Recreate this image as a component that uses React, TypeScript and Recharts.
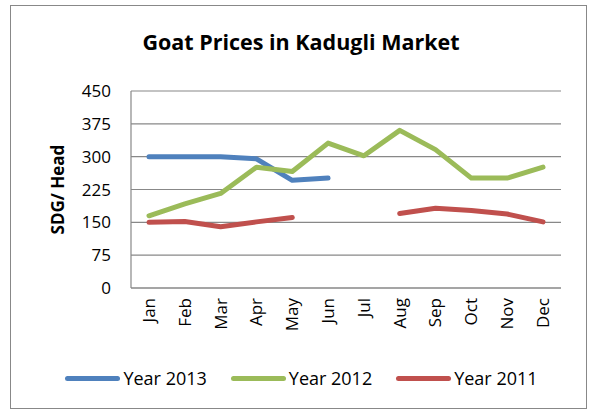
import { LineChart, Line, XAxis, YAxis, CartesianGrid, Legend } from "recharts";

const months = ["Jan", "Feb", "Mar", "Apr", "May", "Jun", "Jul", "Aug", "Sep", "Oct", "Nov", "Dec"];
const year2013 = [300, 300, 300, 295, 246, 251, null, null, null, null, null, null];
const year2012 = [165, 192, 216, 276, 266, 331, 302, 360, 316, 251, 251, 276];
const year2011 = [150, 152, 140, 151, 161, null, null, 170, 182, 177, 169, 151];
const yTicks = [0, 75, 150, 225, 300, 375, 450];

const seriesInfo = [
  { key: "y2013", name: "Year 2013", color: "#4F81BD" },
  { key: "y2012", name: "Year 2012", color: "#9BBB59" },
  { key: "y2011", name: "Year 2011", color: "#C0504D" },
];

const data = months.map((m, i) => ({
  month: m,
  y2013: year2013[i],
  y2012: year2012[i],
  y2011: year2011[i],
}));

const FONT = "'Open Sans', sans-serif";

function MonthTick({ x, y, payload }: any) {
  return (
    <text
      x={x}
      y={y}
      dy="0.35em"
      textAnchor="end"
      transform={`rotate(-90, ${x}, ${y})`}
      fontSize={17}
      fontFamily={FONT}
      fill="#000"
    >
      {payload.value}
    </text>
  );
}

function LegendContent() {
  return (
    <div
      style={{
        display: "flex",
        justifyContent: "center",
        alignItems: "center",
        paddingLeft: 36,
        fontFamily: FONT,
        fontSize: 18,
        color: "#000",
      }}
    >
      {seriesInfo.map((s) => (
        <div key={s.key} style={{ display: "flex", alignItems: "center", marginRight: 24 }}>
          <div style={{ width: 55, height: 5, borderRadius: 3, background: s.color, marginRight: 3 }} />
          <span>{s.name}</span>
        </div>
      ))}
    </div>
  );
}

function YLabel({ viewBox }: any) {
  const cy = viewBox.y + viewBox.height / 2;
  return (
    <text
      x={58}
      y={cy}
      dy="0.35em"
      textAnchor="middle"
      transform={`rotate(-90, 58, ${cy})`}
      fontSize={17}
      fontWeight="bold"
      fontFamily={FONT}
      fill="#000"
    >
      SDG/ Head
    </text>
  );
}

export default function App() {
  return (
    <div style={{ position: "absolute", left: 0, top: 0, width: 591, height: 415, background: "#fff" }}>
      <div
        style={{
          position: "absolute",
          left: 10,
          top: 5,
          width: 575,
          height: 402,
          border: "1px solid #888",
        }}
      />
      <div
        style={{
          position: "absolute",
          left: 0,
          top: 27,
          width: 602,
          textAlign: "center",
          fontFamily: FONT,
          fontWeight: "bold",
          fontSize: 21.5,
          color: "#000",
        }}
      >
        Goat Prices in Kadugli Market
      </div>
      <div style={{ position: "absolute", left: 0, top: 0 }}>
        <LineChart width={591} height={415} data={data} margin={{ top: 91, right: 30, bottom: 0, left: 0 }}>
          <CartesianGrid vertical={false} stroke="#888" strokeWidth={1.2} />
          <XAxis
            dataKey="month"
            height={127}
            tickSize={0}
            tickMargin={10}
            tickLine={false}
            padding={{ left: 18, right: 18 }}
            axisLine={{ stroke: "#888", strokeWidth: 1.2 }}
            tick={<MonthTick />}
            interval={0}
          />
          <YAxis
            width={131}
            domain={[0, 450]}
            ticks={yTicks}
            tickSize={0}
            tickMargin={20}
            tickLine={false}
            axisLine={{ stroke: "#888", strokeWidth: 1.2 }}
            tick={{ fontSize: 17, fontFamily: FONT, fill: "#000" }}
            label={{ content: <YLabel /> }}
          />
          <Legend
            verticalAlign="middle"
            wrapperStyle={{ top: 366, left: 0, width: 591 }}
            content={<LegendContent />}
          />
          {seriesInfo.map((s) => (
            <Line
              key={s.key}
              dataKey={s.key}
              name={s.name}
              stroke={s.color}
              strokeWidth={5}
              strokeLinecap="round"
              strokeLinejoin="round"
              dot={false}
              activeDot={false}
              connectNulls={false}
              isAnimationActive={false}
            />
          ))}
        </LineChart>
      </div>
    </div>
  );
}
